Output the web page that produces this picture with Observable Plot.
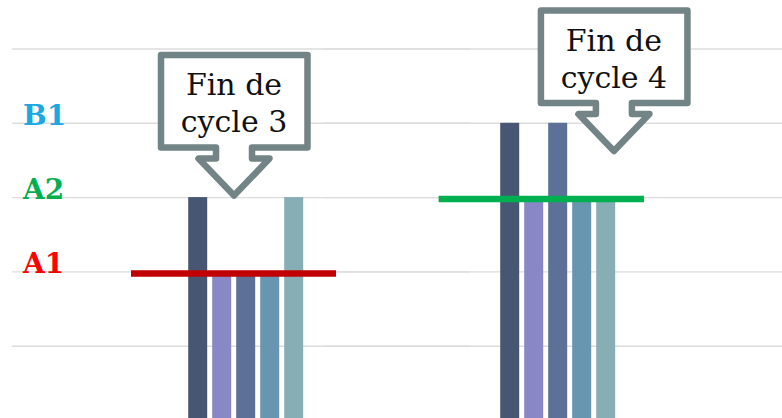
<!DOCTYPE html>
<html><head><meta charset="utf-8">
<script src="https://cdn.jsdelivr.net/npm/d3@7"></script>
<script src="https://cdn.jsdelivr.net/npm/@observablehq/plot@0.6"></script>
<style>html,body{margin:0;padding:0;background:#fff;overflow:hidden}</style>
</head><body><div id="chart"></div>
<script>
// ---- data ----
const cycles = ["Cycle 3", "Cycle 4"];
const series = ["S1", "S2", "S3", "S4", "S5"];
const seriesColors = ["#475773", "#8987c5", "#5d7097", "#6895af", "#87adb5"];
const valuesCycle3 = [3, 2, 2, 2, 3];
const valuesCycle4 = [4, 3, 4, 3, 3];
const gridValues = [1, 2, 3, 4, 5];
const levelNames = ["A1", "A2", "B1"];
const levelValues = [2, 3, 4];
const levelColors = ["#ff0000", "#00b050", "#1aa9e2"];
const targetCycles = ["Cycle 3", "Cycle 4"];
const targetLevels = [2, 3];
const targetColors = ["#c00000", "#00b050"];
const calloutCycles = ["Cycle 3", "Cycle 4"];
const calloutLines = [["Fin de", "cycle 3"], ["Fin de", "cycle 4"]];
const calloutValues = [3, 3.6];
const calloutShift = [-0.5, 2.33]; // in bar steps from the group centre

const valuesByCycle = [valuesCycle3, valuesCycle4];
const bars = cycles.flatMap((c, i) => series.map((s, j) => ({cycle: c, series: s, value: valuesByCycle[i][j]})));
const targetInsets = [[41, 66], [36.6, 70]];

const chart = Plot.plot({
  width: 782, height: 418,
  marginLeft: 89.8, marginRight: 68, marginTop: 0, marginBottom: 0,
  fx: {domain: cycles, padding: 0, axis: null},
  x: {domain: series, paddingInner: 0.22, paddingOuter: 4.11, axis: null},
  y: {domain: [0, 5], range: [420, 48.5], axis: null},
  color: {domain: series, range: seriesColors},
  marks: [
    Plot.ruleY(gridValues, {stroke: "#dcdcdc", strokeWidth: 1.4, insetLeft: -77.8, insetRight: -68}),
    Plot.barY(bars, {fx: "cycle", x: "series", y: "value", fill: "series"}),
    ...targetCycles.map((c, i) => Plot.ruleY([{cycle: c, level: targetLevels[i]}], {
      fx: "cycle", y: "level", stroke: targetColors[i], strokeWidth: 6.5,
      insetLeft: targetInsets[i][0], insetRight: targetInsets[i][1], dy: 1.5
    })),
    ...levelNames.map((n, i) => Plot.text([{cycle: cycles[0], name: n, value: levelValues[i]}], {
      fx: "cycle", y: "value", text: "name", fill: levelColors[i], frameAnchor: "left", textAnchor: "start",
      lineAnchor: "bottom", dx: -67.5, dy: 1.5, fontSize: 28, fontWeight: "bold", fontFamily: "DejaVu Serif"
    }))
  ]
});
document.getElementById("chart").appendChild(chart);

// ---- callouts (annotations) ----
let fxS = null, xS = null, yS = null;
try { fxS = chart.scale("fx"); xS = chart.scale("x"); yS = chart.scale("y"); } catch (e) {}
function groupCenter(c) {
  if (fxS && fxS.apply) return fxS.apply(c) + fxS.bandwidth / 2;
  const bw = (782 - 89.8 - 68) / cycles.length;
  return 89.8 + cycles.indexOf(c) * bw + bw / 2;
}
const step = xS && xS.step ? xS.step : 24;
const yAt = v => (yS && yS.apply) ? yS.apply(v) : 420 - v * 74.3;
function calloutPath(tx, ty) {
  const p = [[0, 0], [-35.5, -37], [-18, -37], [-18, -48], [-73, -48], [-73, -140.5],
             [73.5, -140.5], [73.5, -48], [18, -48], [18, -37], [35.5, -37]];
  return "M" + p.map(([a, b]) => `${tx + a},${ty + b}`).join("L") + "Z";
}
const g = d3.select(chart).append("g");
calloutCycles.forEach((c, i) => {
  const tx = groupCenter(c) + calloutShift[i] * step;
  const ty = yAt(calloutValues[i]) - 1.5;
  g.append("path").attr("d", calloutPath(tx, ty))
    .attr("fill", "#fff").attr("stroke", "#728486").attr("stroke-width", 6.5).attr("stroke-linejoin", "round");
  calloutLines[i].forEach((line, k) => {
    g.append("text").attr("x", tx).attr("y", ty - 100.5 + k * 37)
      .attr("text-anchor", "middle").attr("font-family", "DejaVu Serif").attr("font-size", 30)
      .attr("fill", "#111").text(line);
  });
});
</script>
</body></html>
